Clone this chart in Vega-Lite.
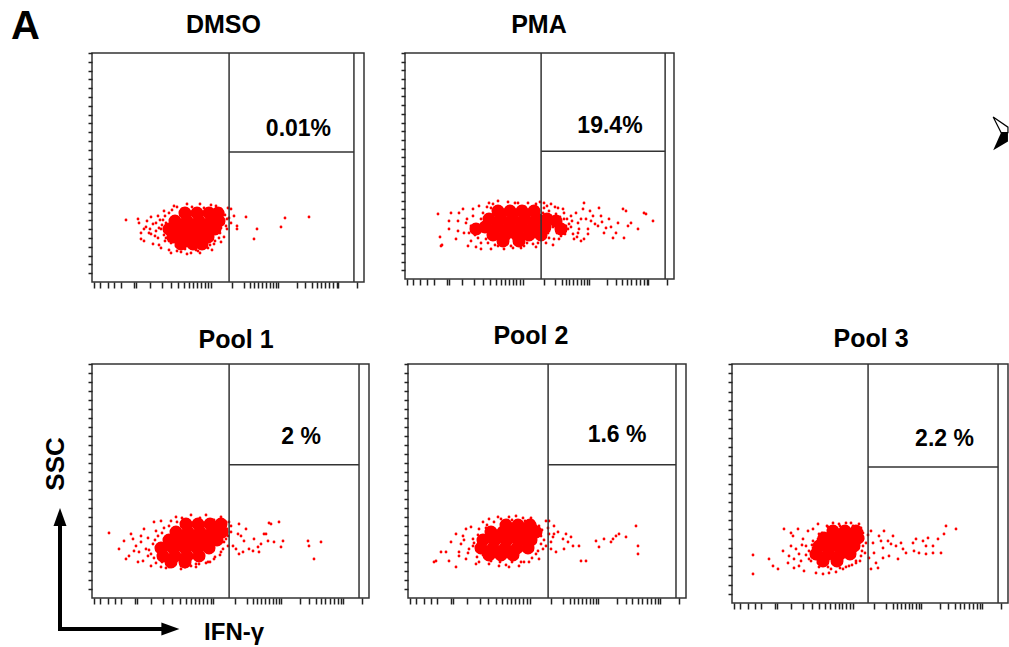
{
"$schema": "https://vega.github.io/schema/vega-lite/v6.json",
"padding": {"left": 10, "top": 6, "right": 0, "bottom": 0},
"background": "white",
"config": {"view": {"stroke": "#333333", "strokeWidth": 1.5}, "font": "Liberation Sans"},
"datasets": {
"gates": [
{"panel":"DMSO","x":50.4,"x2":50.4,"y":0,"y2":26},{"panel":"DMSO","x":96.3,"x2":96.3,"y":0,"y2":26},{"panel":"DMSO","x":50.4,"x2":96.3,"y":14.76,"y2":14.76},
{"panel":"PMA","x":50.6,"x2":50.6,"y":0,"y2":26},{"panel":"PMA","x":96.7,"x2":96.7,"y":0,"y2":26},{"panel":"PMA","x":50.6,"x2":96.7,"y":14.7,"y2":14.7},
{"panel":"Pool 1","x":49.5,"x2":49.5,"y":0,"y2":26},{"panel":"Pool 1","x":96.4,"x2":96.4,"y":0,"y2":26},{"panel":"Pool 1","x":49.5,"x2":96.4,"y":14.8,"y2":14.8},
{"panel":"Pool 2","x":50.4,"x2":50.4,"y":0,"y2":26},{"panel":"Pool 2","x":96.4,"x2":96.4,"y":0,"y2":26},{"panel":"Pool 2","x":50.4,"x2":96.4,"y":14.8,"y2":14.8},
{"panel":"Pool 3","x":49.3,"x2":49.3,"y":0,"y2":26},{"panel":"Pool 3","x":96.4,"x2":96.4,"y":0,"y2":26},{"panel":"Pool 3","x":49.3,"x2":96.4,"y":14.8,"y2":14.8}
],
"titles": [
{"panel":"DMSO","label":"DMSO","x":48.3,"y":28.3},
{"panel":"PMA","label":"PMA","x":49.8,"y":28.3},
{"panel":"Pool 1","label":"Pool 1","x":52.0,"y":27.8},
{"panel":"Pool 2","label":"Pool 2","x":44.2,"y":28.2},
{"panel":"Pool 3","label":"Pool 3","x":50.4,"y":27.9}
],
"percents": [
{"panel":"DMSO","label":"0.01%","x":75.9,"y":16.6},
{"panel":"PMA","label":"19.4%","x":76.2,"y":16.8},
{"panel":"Pool 1","label":"2 %","x":75.5,"y":17.1},
{"panel":"Pool 2","label":"1.6 %","x":75.2,"y":17.3},
{"panel":"Pool 3","label":"2.2 %","x":77.0,"y":17.1}
],
"core": [
{"panel":"DMSO","x":93,"y":69},{"panel":"DMSO","x":105,"y":69},{"panel":"DMSO","x":117,"y":69},{"panel":"DMSO","x":126,"y":69},
{"panel":"DMSO","x":83,"y":61},{"panel":"DMSO","x":95,"y":61},{"panel":"DMSO","x":107,"y":61},{"panel":"DMSO","x":119,"y":61},{"panel":"DMSO","x":127,"y":61},
{"panel":"DMSO","x":77,"y":53},{"panel":"DMSO","x":89,"y":53},{"panel":"DMSO","x":101,"y":53},{"panel":"DMSO","x":113,"y":53},{"panel":"DMSO","x":123,"y":53},
{"panel":"DMSO","x":81,"y":45},{"panel":"DMSO","x":93,"y":45},{"panel":"DMSO","x":105,"y":45},{"panel":"DMSO","x":116,"y":45},
{"panel":"DMSO","x":89,"y":38},{"panel":"DMSO","x":101,"y":38},{"panel":"DMSO","x":110,"y":38},
{"panel":"PMA","x":93,"y":68},{"panel":"PMA","x":105,"y":68},{"panel":"PMA","x":117,"y":68},{"panel":"PMA","x":129,"y":68},
{"panel":"PMA","x":84,"y":60},{"panel":"PMA","x":96,"y":60},{"panel":"PMA","x":108,"y":60},{"panel":"PMA","x":120,"y":60},{"panel":"PMA","x":132,"y":60},{"panel":"PMA","x":142,"y":60},
{"panel":"PMA","x":80,"y":52},{"panel":"PMA","x":92,"y":52},{"panel":"PMA","x":104,"y":52},{"panel":"PMA","x":116,"y":52},{"panel":"PMA","x":128,"y":52},{"panel":"PMA","x":140,"y":52},
{"panel":"PMA","x":88,"y":44},{"panel":"PMA","x":100,"y":44},{"panel":"PMA","x":112,"y":44},{"panel":"PMA","x":124,"y":44},
{"panel":"PMA","x":98,"y":38},{"panel":"PMA","x":114,"y":38},
{"panel":"PMA","x":151,"y":58},{"panel":"PMA","x":156,"y":50},{"panel":"PMA","x":71,"y":50},{"panel":"PMA","x":136,"y":44},
{"panel":"Pool 1","x":94,"y":74},{"panel":"Pool 1","x":106,"y":74},{"panel":"Pool 1","x":118,"y":74},{"panel":"Pool 1","x":129,"y":74},
{"panel":"Pool 1","x":84,"y":66},{"panel":"Pool 1","x":96,"y":66},{"panel":"Pool 1","x":108,"y":66},{"panel":"Pool 1","x":120,"y":66},{"panel":"Pool 1","x":130,"y":66},
{"panel":"Pool 1","x":77,"y":58},{"panel":"Pool 1","x":89,"y":58},{"panel":"Pool 1","x":101,"y":58},{"panel":"Pool 1","x":113,"y":58},{"panel":"Pool 1","x":125,"y":58},
{"panel":"Pool 1","x":69,"y":50},{"panel":"Pool 1","x":81,"y":50},{"panel":"Pool 1","x":93,"y":50},{"panel":"Pool 1","x":105,"y":50},{"panel":"Pool 1","x":117,"y":50},
{"panel":"Pool 1","x":71,"y":42},{"panel":"Pool 1","x":83,"y":42},{"panel":"Pool 1","x":95,"y":42},{"panel":"Pool 1","x":107,"y":42},
{"panel":"Pool 1","x":79,"y":36},{"panel":"Pool 1","x":93,"y":36},
{"panel":"Pool 2","x":98,"y":73},{"panel":"Pool 2","x":110,"y":73},{"panel":"Pool 2","x":122,"y":73},
{"panel":"Pool 2","x":83,"y":66},{"panel":"Pool 2","x":95,"y":66},{"panel":"Pool 2","x":107,"y":66},{"panel":"Pool 2","x":119,"y":66},{"panel":"Pool 2","x":128,"y":66},
{"panel":"Pool 2","x":75,"y":58},{"panel":"Pool 2","x":87,"y":58},{"panel":"Pool 2","x":99,"y":58},{"panel":"Pool 2","x":111,"y":58},{"panel":"Pool 2","x":123,"y":58},
{"panel":"Pool 2","x":73,"y":50},{"panel":"Pool 2","x":85,"y":50},{"panel":"Pool 2","x":97,"y":50},{"panel":"Pool 2","x":109,"y":50},{"panel":"Pool 2","x":120,"y":50},
{"panel":"Pool 2","x":81,"y":43},{"panel":"Pool 2","x":93,"y":43},{"panel":"Pool 2","x":105,"y":43},
{"panel":"Pool 3","x":101,"y":72},{"panel":"Pool 3","x":113,"y":72},{"panel":"Pool 3","x":124,"y":72},
{"panel":"Pool 3","x":92,"y":65},{"panel":"Pool 3","x":104,"y":65},{"panel":"Pool 3","x":116,"y":65},{"panel":"Pool 3","x":126,"y":65},
{"panel":"Pool 3","x":87,"y":57},{"panel":"Pool 3","x":99,"y":57},{"panel":"Pool 3","x":111,"y":57},{"panel":"Pool 3","x":122,"y":57},
{"panel":"Pool 3","x":84,"y":49},{"panel":"Pool 3","x":96,"y":49},{"panel":"Pool 3","x":108,"y":49},{"panel":"Pool 3","x":118,"y":49},
{"panel":"Pool 3","x":91,"y":42},{"panel":"Pool 3","x":105,"y":42}
],
"events": [
{"panel":"DMSO","x":34,"y":62},{"panel":"DMSO","x":46,"y":63},{"panel":"DMSO","x":47,"y":59},{"panel":"DMSO","x":59,"y":65},{"panel":"DMSO","x":61,"y":58},{"panel":"DMSO","x":49,"y":49},{"panel":"DMSO","x":57,"y":49},{"panel":"DMSO","x":52,"y":41},{"panel":"DMSO","x":61,"y":38},{"panel":"DMSO","x":66,"y":44},{"panel":"DMSO","x":69,"y":34},{"panel":"DMSO","x":77,"y":32},{"panel":"DMSO","x":89,"y":30},{"panel":"DMSO","x":99,"y":29},{"panel":"DMSO","x":106,"y":31},{"panel":"DMSO","x":116,"y":34},{"panel":"DMSO","x":122,"y":38},{"panel":"DMSO","x":127,"y":44},{"panel":"DMSO","x":129,"y":54},{"panel":"DMSO","x":136,"y":74},{"panel":"DMSO","x":137,"y":64},{"panel":"DMSO","x":142,"y":66},{"panel":"DMSO","x":145,"y":56},{"panel":"DMSO","x":72,"y":71},{"panel":"DMSO","x":66,"y":66},{"panel":"DMSO","x":82,"y":76},{"panel":"DMSO","x":74,"y":59},{"panel":"DMSO","x":67,"y":54},{"panel":"DMSO","x":54,"y":55},{"panel":"DMSO","x":76,"y":48},{"panel":"DMSO","x":52,"y":53},{"panel":"DMSO","x":49,"y":43},{"panel":"DMSO","x":59,"y":48},{"panel":"DMSO","x":154,"y":65},{"panel":"DMSO","x":145,"y":53},{"panel":"DMSO","x":165,"y":53},{"panel":"DMSO","x":162,"y":43},{"panel":"DMSO","x":193,"y":64},{"panel":"DMSO","x":189,"y":55},{"panel":"DMSO","x":217,"y":65},{"panel":"DMSO","x":139,"y":73},{"panel":"DMSO","x":85,"y":75},{"panel":"DMSO","x":95,"y":78},{"panel":"DMSO","x":108,"y":78},{"panel":"DMSO","x":119,"y":77},{"panel":"DMSO","x":129,"y":73},{"panel":"DMSO","x":133,"y":67},{"panel":"DMSO","x":131,"y":59},{"panel":"DMSO","x":128,"y":49},{"panel":"DMSO","x":123,"y":41},{"panel":"DMSO","x":114,"y":35},{"panel":"DMSO","x":104,"y":32},{"panel":"DMSO","x":93,"y":33},{"panel":"DMSO","x":84,"y":36},{"panel":"DMSO","x":77,"y":41},{"panel":"DMSO","x":72,"y":47},{"panel":"DMSO","x":69,"y":53},{"panel":"DMSO","x":71,"y":62},{"panel":"DMSO","x":77,"y":69},{"panel":"DMSO","x":64,"y":51},{"panel":"DMSO","x":55,"y":61},{"panel":"DMSO","x":67,"y":37},{"panel":"DMSO","x":79,"y":29},{"panel":"DMSO","x":95,"y":28},{"panel":"DMSO","x":108,"y":29},{"panel":"DMSO","x":135,"y":53},{"panel":"DMSO","x":132,"y":45},{"panel":"DMSO","x":139,"y":59},{"panel":"DMSO","x":124,"y":76},{"panel":"DMSO","x":90,"y":73},{"panel":"DMSO","x":64,"y":59},{"panel":"DMSO","x":73,"y":41},{"panel":"DMSO","x":85,"y":31},{"panel":"DMSO","x":120,"y":32},{"panel":"DMSO","x":125,"y":51},{"panel":"DMSO","x":135,"y":63},
{"panel":"DMSO","x":80,"y":72},{"panel":"DMSO","x":100,"y":75},{"panel":"DMSO","x":112,"y":74},{"panel":"DMSO","x":131,"y":69},{"panel":"DMSO","x":134,"y":56},{"panel":"DMSO","x":129,"y":40},{"panel":"DMSO","x":118,"y":37},{"panel":"DMSO","x":100,"y":34},{"panel":"DMSO","x":88,"y":35},{"panel":"DMSO","x":79,"y":39},{"panel":"DMSO","x":74,"y":44},{"panel":"DMSO","x":70,"y":57},{"panel":"DMSO","x":73,"y":66},{"panel":"DMSO","x":63,"y":46},{"panel":"DMSO","x":58,"y":53},{"panel":"DMSO","x":68,"y":62},
{"panel":"PMA","x":33,"y":65},{"panel":"PMA","x":36,"y":33},{"panel":"PMA","x":46,"y":66},{"panel":"PMA","x":44,"y":50},{"panel":"PMA","x":51,"y":40},{"panel":"PMA","x":53,"y":58},{"panel":"PMA","x":58,"y":70},{"panel":"PMA","x":59,"y":46},{"panel":"PMA","x":63,"y":33},{"panel":"PMA","x":66,"y":53},{"panel":"PMA","x":68,"y":63},{"panel":"PMA","x":73,"y":41},{"panel":"PMA","x":74,"y":73},{"panel":"PMA","x":76,"y":30},{"panel":"PMA","x":79,"y":50},{"panel":"PMA","x":83,"y":36},{"panel":"PMA","x":86,"y":30},{"panel":"PMA","x":93,"y":33},{"panel":"PMA","x":99,"y":30},{"panel":"PMA","x":106,"y":33},{"panel":"PMA","x":113,"y":36},{"panel":"PMA","x":119,"y":33},{"panel":"PMA","x":126,"y":40},{"panel":"PMA","x":133,"y":36},{"panel":"PMA","x":84,"y":76},{"panel":"PMA","x":93,"y":78},{"panel":"PMA","x":103,"y":77},{"panel":"PMA","x":113,"y":76},{"panel":"PMA","x":123,"y":76},{"panel":"PMA","x":131,"y":75},{"panel":"PMA","x":139,"y":76},{"panel":"PMA","x":146,"y":75},{"panel":"PMA","x":153,"y":71},{"panel":"PMA","x":159,"y":66},{"panel":"PMA","x":166,"y":63},{"panel":"PMA","x":173,"y":56},{"panel":"PMA","x":178,"y":70},{"panel":"PMA","x":179,"y":76},{"panel":"PMA","x":183,"y":50},{"panel":"PMA","x":188,"y":63},{"panel":"PMA","x":193,"y":53},{"panel":"PMA","x":194,"y":71},{"panel":"PMA","x":199,"y":46},{"panel":"PMA","x":204,"y":60},{"panel":"PMA","x":208,"y":41},{"panel":"PMA","x":213,"y":56},{"panel":"PMA","x":218,"y":70},{"panel":"PMA","x":219,"y":41},{"panel":"PMA","x":223,"y":53},{"panel":"PMA","x":226,"y":56},{"panel":"PMA","x":233,"y":50},{"panel":"PMA","x":239,"y":66},{"panel":"PMA","x":248,"y":58},{"panel":"PMA","x":143,"y":46},{"panel":"PMA","x":149,"y":40},{"panel":"PMA","x":156,"y":43},{"panel":"PMA","x":163,"y":50},{"panel":"PMA","x":169,"y":40},{"panel":"PMA","x":173,"y":46},{"panel":"PMA","x":141,"y":63},{"panel":"PMA","x":148,"y":58},{"panel":"PMA","x":154,"y":53},{"panel":"PMA","x":159,"y":60},{"panel":"PMA","x":144,"y":68},{"panel":"PMA","x":151,"y":65},{"panel":"PMA","x":158,"y":70},{"panel":"PMA","x":164,"y":55},{"panel":"PMA","x":168,"y":45},{"panel":"PMA","x":179,"y":40},{"panel":"PMA","x":186,"y":58},{"panel":"PMA","x":196,"y":63},{"panel":"PMA","x":201,"y":51},{"panel":"PMA","x":211,"y":46},{"panel":"PMA","x":35,"y":42},{"panel":"PMA","x":37,"y":34},{"panel":"PMA","x":44,"y":58},{"panel":"PMA","x":53,"y":48},{"panel":"PMA","x":221,"y":68},{"panel":"PMA","x":241,"y":65},{"panel":"PMA","x":71,"y":53},{"panel":"PMA","x":74,"y":46},{"panel":"PMA","x":81,"y":40},{"panel":"PMA","x":78,"y":66},{"panel":"PMA","x":86,"y":71},{"panel":"PMA","x":141,"y":53},{"panel":"PMA","x":144,"y":48},{"panel":"PMA","x":136,"y":42},{"panel":"PMA","x":139,"y":71},{"panel":"PMA","x":148,"y":52},{"panel":"PMA","x":152,"y":46},{"panel":"PMA","x":156,"y":56},{"panel":"PMA","x":161,"y":53},{"panel":"PMA","x":141,"y":36},{"panel":"PMA","x":131,"y":32},{"panel":"PMA","x":137,"y":58},{"panel":"PMA","x":140,"y":48},{"panel":"PMA","x":146,"y":63},{"panel":"PMA","x":150,"y":56},{"panel":"PMA","x":154,"y":40},{"panel":"PMA","x":158,"y":48},{"panel":"PMA","x":162,"y":60},{"panel":"PMA","x":166,"y":52},{"panel":"PMA","x":171,"y":66},{"panel":"PMA","x":174,"y":50},{"panel":"PMA","x":142,"y":73},{"panel":"PMA","x":148,"y":34},{"panel":"PMA","x":176,"y":38},{"panel":"PMA","x":181,"y":60},{"panel":"PMA","x":144,"y":41},{"panel":"PMA","x":66,"y":38},{"panel":"PMA","x":61,"y":56},{"panel":"PMA","x":71,"y":32},{"panel":"PMA","x":64,"y":46},{"panel":"PMA","x":54,"y":66},{"panel":"PMA","x":76,"y":60},
{"panel":"PMA","x":62,"y":60},{"panel":"PMA","x":68,"y":70},{"panel":"PMA","x":70,"y":44},{"panel":"PMA","x":76,"y":36},{"panel":"PMA","x":82,"y":72},{"panel":"PMA","x":88,"y":75},{"panel":"PMA","x":90,"y":34},{"panel":"PMA","x":96,"y":36},{"panel":"PMA","x":102,"y":35},{"panel":"PMA","x":108,"y":31},{"panel":"PMA","x":116,"y":31},{"panel":"PMA","x":122,"y":36},{"panel":"PMA","x":128,"y":35},{"panel":"PMA","x":134,"y":44},{"panel":"PMA","x":138,"y":66},{"panel":"PMA","x":150,"y":72},{"panel":"PMA","x":155,"y":62},{"panel":"PMA","x":160,"y":45},{"panel":"PMA","x":167,"y":58},{"panel":"PMA","x":172,"y":42},{"panel":"PMA","x":176,"y":60},{"panel":"PMA","x":183,"y":45},{"panel":"PMA","x":190,"y":55},{"panel":"PMA","x":185,"y":68},{"panel":"PMA","x":197,"y":57},{"panel":"PMA","x":206,"y":52},{"panel":"PMA","x":89,"y":64},{"panel":"PMA","x":110,"y":76},{"panel":"PMA","x":120,"y":72},{"panel":"PMA","x":135,"y":77},
{"panel":"Pool 1","x":17,"y":65},{"panel":"Pool 1","x":32,"y":57},{"panel":"Pool 1","x":39,"y":64},{"panel":"Pool 1","x":42,"y":47},{"panel":"Pool 1","x":34,"y":39},{"panel":"Pool 1","x":49,"y":56},{"panel":"Pool 1","x":52,"y":69},{"panel":"Pool 1","x":56,"y":42},{"panel":"Pool 1","x":46,"y":36},{"panel":"Pool 1","x":59,"y":32},{"panel":"Pool 1","x":62,"y":76},{"panel":"Pool 1","x":69,"y":31},{"panel":"Pool 1","x":79,"y":77},{"panel":"Pool 1","x":77,"y":31},{"panel":"Pool 1","x":89,"y":32},{"panel":"Pool 1","x":99,"y":32},{"panel":"Pool 1","x":107,"y":34},{"panel":"Pool 1","x":116,"y":36},{"panel":"Pool 1","x":122,"y":39},{"panel":"Pool 1","x":129,"y":46},{"panel":"Pool 1","x":132,"y":56},{"panel":"Pool 1","x":137,"y":76},{"panel":"Pool 1","x":139,"y":66},{"panel":"Pool 1","x":141,"y":52},{"panel":"Pool 1","x":144,"y":49},{"panel":"Pool 1","x":147,"y":74},{"panel":"Pool 1","x":149,"y":62},{"panel":"Pool 1","x":154,"y":69},{"panel":"Pool 1","x":151,"y":46},{"panel":"Pool 1","x":162,"y":59},{"panel":"Pool 1","x":166,"y":51},{"panel":"Pool 1","x":172,"y":64},{"panel":"Pool 1","x":176,"y":57},{"panel":"Pool 1","x":179,"y":74},{"panel":"Pool 1","x":182,"y":56},{"panel":"Pool 1","x":187,"y":76},{"panel":"Pool 1","x":189,"y":51},{"panel":"Pool 1","x":216,"y":57},{"panel":"Pool 1","x":217,"y":52},{"panel":"Pool 1","x":222,"y":39},{"panel":"Pool 1","x":229,"y":56},{"panel":"Pool 1","x":157,"y":49},{"panel":"Pool 1","x":161,"y":47},{"panel":"Pool 1","x":167,"y":46},{"panel":"Pool 1","x":177,"y":75},{"panel":"Pool 1","x":174,"y":64},{"panel":"Pool 1","x":191,"y":57},{"panel":"Pool 1","x":146,"y":64},{"panel":"Pool 1","x":152,"y":57},{"panel":"Pool 1","x":139,"y":72},{"panel":"Pool 1","x":147,"y":44},{"panel":"Pool 1","x":169,"y":54},{"panel":"Pool 1","x":84,"y":81},{"panel":"Pool 1","x":99,"y":83},{"panel":"Pool 1","x":114,"y":83},{"panel":"Pool 1","x":129,"y":81},{"panel":"Pool 1","x":135,"y":69},{"panel":"Pool 1","x":134,"y":59},{"panel":"Pool 1","x":131,"y":49},{"panel":"Pool 1","x":123,"y":41},{"panel":"Pool 1","x":114,"y":35},{"panel":"Pool 1","x":104,"y":31},{"panel":"Pool 1","x":89,"y":29},{"panel":"Pool 1","x":74,"y":30},{"panel":"Pool 1","x":64,"y":35},{"panel":"Pool 1","x":59,"y":44},{"panel":"Pool 1","x":61,"y":54},{"panel":"Pool 1","x":66,"y":62},{"panel":"Pool 1","x":72,"y":70},{"panel":"Pool 1","x":54,"y":49},{"panel":"Pool 1","x":49,"y":62},{"panel":"Pool 1","x":44,"y":52},{"panel":"Pool 1","x":37,"y":42},{"panel":"Pool 1","x":51,"y":37},{"panel":"Pool 1","x":64,"y":67},{"panel":"Pool 1","x":69,"y":77},{"panel":"Pool 1","x":27,"y":49},{"panel":"Pool 1","x":41,"y":59},
{"panel":"Pool 1","x":90,"y":80},{"panel":"Pool 1","x":108,"y":80},{"panel":"Pool 1","x":122,"y":78},{"panel":"Pool 1","x":134,"y":76},{"panel":"Pool 1","x":136,"y":62},{"panel":"Pool 1","x":136,"y":52},{"panel":"Pool 1","x":128,"y":43},{"panel":"Pool 1","x":118,"y":36},{"panel":"Pool 1","x":104,"y":34},{"panel":"Pool 1","x":93,"y":31},{"panel":"Pool 1","x":80,"y":33},{"panel":"Pool 1","x":70,"y":36},{"panel":"Pool 1","x":62,"y":40},{"panel":"Pool 1","x":57,"y":48},{"panel":"Pool 1","x":63,"y":58},{"panel":"Pool 1","x":70,"y":65},{"panel":"Pool 1","x":77,"y":72},{"panel":"Pool 1","x":85,"y":76},{"panel":"Pool 1","x":56,"y":60},{"panel":"Pool 1","x":47,"y":46},
{"panel":"Pool 2","x":28,"y":37},{"panel":"Pool 2","x":33,"y":46},{"panel":"Pool 2","x":38,"y":46},{"panel":"Pool 2","x":43,"y":56},{"panel":"Pool 2","x":41,"y":37},{"panel":"Pool 2","x":51,"y":46},{"panel":"Pool 2","x":55,"y":62},{"panel":"Pool 2","x":58,"y":39},{"panel":"Pool 2","x":63,"y":71},{"panel":"Pool 2","x":65,"y":52},{"panel":"Pool 2","x":68,"y":34},{"panel":"Pool 2","x":75,"y":76},{"panel":"Pool 2","x":81,"y":79},{"panel":"Pool 2","x":90,"y":81},{"panel":"Pool 2","x":101,"y":81},{"panel":"Pool 2","x":115,"y":80},{"panel":"Pool 2","x":125,"y":77},{"panel":"Pool 2","x":131,"y":72},{"panel":"Pool 2","x":133,"y":62},{"panel":"Pool 2","x":135,"y":49},{"panel":"Pool 2","x":131,"y":39},{"panel":"Pool 2","x":121,"y":36},{"panel":"Pool 2","x":111,"y":32},{"panel":"Pool 2","x":101,"y":31},{"panel":"Pool 2","x":91,"y":32},{"panel":"Pool 2","x":81,"y":34},{"panel":"Pool 2","x":71,"y":36},{"panel":"Pool 2","x":138,"y":77},{"panel":"Pool 2","x":141,"y":64},{"panel":"Pool 2","x":143,"y":56},{"panel":"Pool 2","x":145,"y":61},{"panel":"Pool 2","x":148,"y":46},{"panel":"Pool 2","x":150,"y":66},{"panel":"Pool 2","x":155,"y":59},{"panel":"Pool 2","x":158,"y":64},{"panel":"Pool 2","x":160,"y":56},{"panel":"Pool 2","x":163,"y":61},{"panel":"Pool 2","x":165,"y":52},{"panel":"Pool 2","x":156,"y":49},{"panel":"Pool 2","x":171,"y":52},{"panel":"Pool 2","x":173,"y":37},{"panel":"Pool 2","x":178,"y":37},{"panel":"Pool 2","x":188,"y":57},{"panel":"Pool 2","x":191,"y":51},{"panel":"Pool 2","x":196,"y":59},{"panel":"Pool 2","x":203,"y":56},{"panel":"Pool 2","x":208,"y":62},{"panel":"Pool 2","x":211,"y":64},{"panel":"Pool 2","x":218,"y":61},{"panel":"Pool 2","x":228,"y":72},{"panel":"Pool 2","x":230,"y":52},{"panel":"Pool 2","x":230,"y":44},{"panel":"Pool 2","x":146,"y":72},{"panel":"Pool 2","x":26,"y":36},{"panel":"Pool 2","x":48,"y":31},{"panel":"Pool 2","x":51,"y":42},{"panel":"Pool 2","x":205,"y":59},{"panel":"Pool 2","x":146,"y":64},{"panel":"Pool 2","x":143,"y":49},{"panel":"Pool 2","x":141,"y":77},{"panel":"Pool 2","x":71,"y":69},{"panel":"Pool 2","x":65,"y":59},{"panel":"Pool 2","x":61,"y":49},{"panel":"Pool 2","x":69,"y":41},{"panel":"Pool 2","x":93,"y":79},{"panel":"Pool 2","x":108,"y":82},{"panel":"Pool 2","x":123,"y":80},{"panel":"Pool 2","x":131,"y":69},{"panel":"Pool 2","x":133,"y":54},{"panel":"Pool 2","x":128,"y":44},{"panel":"Pool 2","x":113,"y":36},{"panel":"Pool 2","x":98,"y":33},{"panel":"Pool 2","x":83,"y":37},{"panel":"Pool 2","x":75,"y":43},{"panel":"Pool 2","x":79,"y":73},{"panel":"Pool 2","x":53,"y":54},{"panel":"Pool 2","x":48,"y":64},{"panel":"Pool 2","x":58,"y":69},
{"panel":"Pool 2","x":86,"y":76},{"panel":"Pool 2","x":104,"y":78},{"panel":"Pool 2","x":117,"y":77},{"panel":"Pool 2","x":128,"y":72},{"panel":"Pool 2","x":134,"y":68},{"panel":"Pool 2","x":136,"y":58},{"panel":"Pool 2","x":130,"y":47},{"panel":"Pool 2","x":124,"y":40},{"panel":"Pool 2","x":116,"y":36},{"panel":"Pool 2","x":104,"y":36},{"panel":"Pool 2","x":92,"y":36},{"panel":"Pool 2","x":80,"y":40},{"panel":"Pool 2","x":72,"y":46},{"panel":"Pool 2","x":66,"y":55},{"panel":"Pool 2","x":70,"y":63},{"panel":"Pool 2","x":78,"y":70},{"panel":"Pool 2","x":138,"y":52},{"panel":"Pool 2","x":140,"y":70},{"panel":"Pool 2","x":60,"y":45},{"panel":"Pool 2","x":56,"y":58},
{"panel":"Pool 3","x":21,"y":48},{"panel":"Pool 3","x":21,"y":29},{"panel":"Pool 3","x":37,"y":44},{"panel":"Pool 3","x":41,"y":37},{"panel":"Pool 3","x":46,"y":34},{"panel":"Pool 3","x":51,"y":52},{"panel":"Pool 3","x":52,"y":74},{"panel":"Pool 3","x":56,"y":40},{"panel":"Pool 3","x":59,"y":57},{"panel":"Pool 3","x":61,"y":67},{"panel":"Pool 3","x":62,"y":35},{"panel":"Pool 3","x":66,"y":74},{"panel":"Pool 3","x":67,"y":49},{"panel":"Pool 3","x":71,"y":64},{"panel":"Pool 3","x":72,"y":32},{"panel":"Pool 3","x":76,"y":72},{"panel":"Pool 3","x":77,"y":44},{"panel":"Pool 3","x":81,"y":55},{"panel":"Pool 3","x":84,"y":30},{"panel":"Pool 3","x":86,"y":79},{"panel":"Pool 3","x":91,"y":29},{"panel":"Pool 3","x":97,"y":30},{"panel":"Pool 3","x":104,"y":31},{"panel":"Pool 3","x":111,"y":34},{"panel":"Pool 3","x":117,"y":37},{"panel":"Pool 3","x":124,"y":40},{"panel":"Pool 3","x":129,"y":47},{"panel":"Pool 3","x":131,"y":57},{"panel":"Pool 3","x":131,"y":70},{"panel":"Pool 3","x":127,"y":79},{"panel":"Pool 3","x":114,"y":80},{"panel":"Pool 3","x":101,"y":80},{"panel":"Pool 3","x":139,"y":72},{"panel":"Pool 3","x":141,"y":60},{"panel":"Pool 3","x":142,"y":50},{"panel":"Pool 3","x":144,"y":40},{"panel":"Pool 3","x":139,"y":34},{"panel":"Pool 3","x":147,"y":67},{"panel":"Pool 3","x":151,"y":55},{"panel":"Pool 3","x":152,"y":72},{"panel":"Pool 3","x":156,"y":62},{"panel":"Pool 3","x":157,"y":47},{"panel":"Pool 3","x":161,"y":67},{"panel":"Pool 3","x":164,"y":57},{"panel":"Pool 3","x":166,"y":44},{"panel":"Pool 3","x":169,"y":60},{"panel":"Pool 3","x":171,"y":54},{"panel":"Pool 3","x":174,"y":50},{"panel":"Pool 3","x":181,"y":60},{"panel":"Pool 3","x":184,"y":64},{"panel":"Pool 3","x":191,"y":62},{"panel":"Pool 3","x":196,"y":65},{"panel":"Pool 3","x":194,"y":57},{"panel":"Pool 3","x":201,"y":57},{"panel":"Pool 3","x":206,"y":64},{"panel":"Pool 3","x":209,"y":50},{"panel":"Pool 3","x":214,"y":77},{"panel":"Pool 3","x":212,"y":69},{"panel":"Pool 3","x":224,"y":74},{"panel":"Pool 3","x":201,"y":50},{"panel":"Pool 3","x":187,"y":50},{"panel":"Pool 3","x":146,"y":35},{"panel":"Pool 3","x":151,"y":45},{"panel":"Pool 3","x":59,"y":70},{"panel":"Pool 3","x":194,"y":49},{"panel":"Pool 3","x":182,"y":52},{"panel":"Pool 3","x":159,"y":59},{"panel":"Pool 3","x":149,"y":62},{"panel":"Pool 3","x":81,"y":74},{"panel":"Pool 3","x":87,"y":69},{"panel":"Pool 3","x":81,"y":62},{"panel":"Pool 3","x":77,"y":52},{"panel":"Pool 3","x":79,"y":42},{"panel":"Pool 3","x":87,"y":36},{"panel":"Pool 3","x":99,"y":34},{"panel":"Pool 3","x":114,"y":36},{"panel":"Pool 3","x":124,"y":42},{"panel":"Pool 3","x":130,"y":52},{"panel":"Pool 3","x":131,"y":64},{"panel":"Pool 3","x":129,"y":75},{"panel":"Pool 3","x":119,"y":80},{"panel":"Pool 3","x":107,"y":79},{"panel":"Pool 3","x":95,"y":77},{"panel":"Pool 3","x":69,"y":42},{"panel":"Pool 3","x":64,"y":54},{"panel":"Pool 3","x":74,"y":57},{"panel":"Pool 3","x":57,"y":47},{"panel":"Pool 3","x":67,"y":37},
{"panel":"Pool 3","x":96,"y":76},{"panel":"Pool 3","x":108,"y":77},{"panel":"Pool 3","x":121,"y":77},{"panel":"Pool 3","x":130,"y":72},{"panel":"Pool 3","x":134,"y":60},{"panel":"Pool 3","x":133,"y":50},{"panel":"Pool 3","x":128,"y":42},{"panel":"Pool 3","x":120,"y":38},{"panel":"Pool 3","x":108,"y":35},{"panel":"Pool 3","x":96,"y":36},{"panel":"Pool 3","x":86,"y":40},{"panel":"Pool 3","x":80,"y":46},{"panel":"Pool 3","x":80,"y":58},{"panel":"Pool 3","x":86,"y":64},{"panel":"Pool 3","x":90,"y":70},{"panel":"Pool 3","x":74,"y":48},{"panel":"Pool 3","x":70,"y":58},{"panel":"Pool 3","x":136,"y":68},{"panel":"Pool 3","x":137,"y":45},{"panel":"Pool 3","x":62,"y":44}
]
},
"vconcat": [
{
"hconcat": [
{
"width": 272, "height": 229,
"resolve": {"scale": {"x": "independent", "y": "independent"}},
"layer": [
{"data": {"name": "core"}, "transform": [{"filter": "datum.panel === 'DMSO'"}], "mark": {"type": "circle", "size": 170, "color": "#ff0000", "opacity": 1},
 "encoding": {"x": {"field": "x", "type": "quantitative", "scale": {"domain": [0, 272]}, "axis": null}, "y": {"field": "y", "type": "quantitative", "scale": {"domain": [0, 229]}, "axis": null}}},
{"data": {"name": "events"}, "transform": [{"filter": "datum.panel === 'DMSO'"}], "mark": {"type": "circle", "size": 8, "color": "#ff0000", "opacity": 1},
 "encoding": {"x": {"field": "x", "type": "quantitative", "scale": {"domain": [0, 272]}, "axis": null}, "y": {"field": "y", "type": "quantitative", "scale": {"domain": [0, 229]}, "axis": null}}},
{"data": {"name": "gates"}, "transform": [{"filter": "datum.panel === 'DMSO'"}], "mark": {"type": "rule", "color": "#333333", "strokeWidth": 1.5},
 "encoding": {
  "x": {"field": "x", "type": "quantitative", "scale": {"domain": [0, 100]}, "axis": {"orient": "bottom", "values": [0.7,3.0,5.7,8.2,10.6,15.6,16.3,21.3,25.8,28.9,31.6,33.8,35.6,37.2,38.6,40.0,41.4,42.8,43.8,51.5,55.8,58.2,59.7,61.1,62.6,64.0,65.3,66.5,67.6,68.3,75.2,78.3,80.7,82.6,84.2,85.8,87.3,88.7,89.9,90.5,97.4], "labels": false, "domain": false, "grid": false, "tickSize": 6, "tickColor": "#222222", "tickWidth": 1.5, "title": null}},
  "x2": {"field": "x2"},
  "y": {"field": "y", "type": "quantitative", "scale": {"domain": [0, 26]}, "axis": {"orient": "left", "values": [1,2,3,4,5,6,7,8,9,10,11,12,13,14,15,16,17,18,19,20,21,22,23,24,25,26], "labels": false, "domain": false, "grid": false, "tickSize": 4, "tickColor": "#222222", "tickWidth": 1.5, "title": null}},
  "y2": {"field": "y2"}}},
{"data": {"name": "titles"}, "transform": [{"filter": "datum.panel === 'DMSO'"}], "mark": {"type": "text", "font": "Liberation Sans", "fontSize": 25, "fontWeight": "bold", "align": "center", "baseline": "alphabetic", "color": "#000000"},
 "encoding": {"x": {"field": "x", "type": "quantitative", "scale": {"domain": [0, 100]}, "axis": null}, "y": {"field": "y", "type": "quantitative", "scale": {"domain": [0, 26]}, "axis": null}, "text": {"field": "label"}}},
{"data": {"name": "percents"}, "transform": [{"filter": "datum.panel === 'DMSO'"}], "mark": {"type": "text", "font": "Liberation Sans", "fontSize": 23, "fontWeight": "bold", "align": "center", "baseline": "alphabetic", "color": "#000000"},
 "encoding": {"x": {"field": "x", "type": "quantitative", "scale": {"domain": [0, 100]}, "axis": null}, "y": {"field": "y", "type": "quantitative", "scale": {"domain": [0, 26]}, "axis": null}, "text": {"field": "label"}}},
{"data": {"values": [{"label": "A", "x": -29.8, "y": 27.6}]}, "mark": {"type": "text", "font": "Liberation Sans", "fontSize": 40, "fontWeight": "bold", "align": "left", "baseline": "alphabetic", "color": "#000000"},
 "encoding": {"x": {"field": "x", "type": "quantitative", "scale": {"domain": [0, 100]}, "axis": null}, "y": {"field": "y", "type": "quantitative", "scale": {"domain": [0, 26]}, "axis": null}, "text": {"field": "label"}}}
]
},
{
"width": 269, "height": 226,
"resolve": {"scale": {"x": "independent", "y": "independent"}},
"layer": [
{"data": {"name": "core"}, "transform": [{"filter": "datum.panel === 'PMA'"}], "mark": {"type": "circle", "size": 170, "color": "#ff0000", "opacity": 1},
 "encoding": {"x": {"field": "x", "type": "quantitative", "scale": {"domain": [0, 269]}, "axis": null}, "y": {"field": "y", "type": "quantitative", "scale": {"domain": [0, 226]}, "axis": null}}},
{"data": {"name": "events"}, "transform": [{"filter": "datum.panel === 'PMA'"}], "mark": {"type": "circle", "size": 8, "color": "#ff0000", "opacity": 1},
 "encoding": {"x": {"field": "x", "type": "quantitative", "scale": {"domain": [0, 269]}, "axis": null}, "y": {"field": "y", "type": "quantitative", "scale": {"domain": [0, 226]}, "axis": null}}},
{"data": {"name": "gates"}, "transform": [{"filter": "datum.panel === 'PMA'"}], "mark": {"type": "rule", "color": "#333333", "strokeWidth": 1.5},
 "encoding": {
  "x": {"field": "x", "type": "quantitative", "scale": {"domain": [0, 100]}, "axis": {"orient": "bottom", "values": [0.7,3.0,5.7,8.2,10.6,15.6,16.3,21.3,25.8,28.9,31.6,33.8,35.6,37.2,38.6,40.0,41.4,42.8,43.8,51.5,55.8,58.2,59.7,61.1,62.6,64.0,65.3,66.5,67.6,68.3,75.2,78.3,80.7,82.6,84.2,85.8,87.3,88.7,89.9,90.5,97.4], "labels": false, "domain": false, "grid": false, "tickSize": 6, "tickColor": "#222222", "tickWidth": 1.5, "title": null}},
  "x2": {"field": "x2"},
  "y": {"field": "y", "type": "quantitative", "scale": {"domain": [0, 26]}, "axis": {"orient": "left", "values": [1,2,3,4,5,6,7,8,9,10,11,12,13,14,15,16,17,18,19,20,21,22,23,24,25,26], "labels": false, "domain": false, "grid": false, "tickSize": 4, "tickColor": "#222222", "tickWidth": 1.5, "title": null}},
  "y2": {"field": "y2"}}},
{"data": {"name": "titles"}, "transform": [{"filter": "datum.panel === 'PMA'"}], "mark": {"type": "text", "font": "Liberation Sans", "fontSize": 25, "fontWeight": "bold", "align": "center", "baseline": "alphabetic", "color": "#000000"},
 "encoding": {"x": {"field": "x", "type": "quantitative", "scale": {"domain": [0, 100]}, "axis": null}, "y": {"field": "y", "type": "quantitative", "scale": {"domain": [0, 26]}, "axis": null}, "text": {"field": "label"}}},
{"data": {"name": "percents"}, "transform": [{"filter": "datum.panel === 'PMA'"}], "mark": {"type": "text", "font": "Liberation Sans", "fontSize": 23, "fontWeight": "bold", "align": "center", "baseline": "alphabetic", "color": "#000000"},
 "encoding": {"x": {"field": "x", "type": "quantitative", "scale": {"domain": [0, 100]}, "axis": null}, "y": {"field": "y", "type": "quantitative", "scale": {"domain": [0, 26]}, "axis": null}, "text": {"field": "label"}}},
{"data": {"values": [{"x": 221.6, "y": 16.7}]}, "mark": {"type": "point", "shape": "M-0.44,-0.94L0.38,-0.37L0.38,-0.07L0,-0.07Z", "size": 1296, "filled": true, "fill": "#ffffff", "stroke": "#000000", "strokeWidth": 1.2, "opacity": 1},
 "encoding": {"x": {"field": "x", "type": "quantitative", "scale": {"domain": [0, 100]}, "axis": null}, "y": {"field": "y", "type": "quantitative", "scale": {"domain": [0, 26]}, "axis": null}}},
{"data": {"values": [{"x": 221.6, "y": 16.7}]}, "mark": {"type": "point", "shape": "M0,-0.07L0.38,-0.07L0.38,0.42L-0.44,0.91Z", "size": 1296, "filled": true, "color": "#000000", "opacity": 1},
 "encoding": {"x": {"field": "x", "type": "quantitative", "scale": {"domain": [0, 100]}, "axis": null}, "y": {"field": "y", "type": "quantitative", "scale": {"domain": [0, 26]}, "axis": null}}}
]
}
],
"spacing": 41,
"bounds": "flush"
},
{
"hconcat": [
{
"width": 277, "height": 234,
"resolve": {"scale": {"x": "independent", "y": "independent"}},
"layer": [
{"data": {"name": "core"}, "transform": [{"filter": "datum.panel === 'Pool 1'"}], "mark": {"type": "circle", "size": 170, "color": "#ff0000", "opacity": 1},
 "encoding": {"x": {"field": "x", "type": "quantitative", "scale": {"domain": [0, 277]}, "axis": null}, "y": {"field": "y", "type": "quantitative", "scale": {"domain": [0, 234]}, "axis": null}}},
{"data": {"name": "events"}, "transform": [{"filter": "datum.panel === 'Pool 1'"}], "mark": {"type": "circle", "size": 8, "color": "#ff0000", "opacity": 1},
 "encoding": {"x": {"field": "x", "type": "quantitative", "scale": {"domain": [0, 277]}, "axis": null}, "y": {"field": "y", "type": "quantitative", "scale": {"domain": [0, 234]}, "axis": null}}},
{"data": {"name": "gates"}, "transform": [{"filter": "datum.panel === 'Pool 1'"}], "mark": {"type": "rule", "color": "#333333", "strokeWidth": 1.5},
 "encoding": {
  "x": {"field": "x", "type": "quantitative", "scale": {"domain": [0, 100]}, "axis": {"orient": "bottom", "values": [0.7,3.0,5.7,8.2,10.6,15.6,16.3,21.3,25.8,28.9,31.6,33.8,35.6,37.2,38.6,40.0,41.4,42.8,43.8,51.5,55.8,58.2,59.7,61.1,62.6,64.0,65.3,66.5,67.6,68.3,75.2,78.3,80.7,82.6,84.2,85.8,87.3,88.7,89.9,90.5,97.4], "labels": false, "domain": false, "grid": false, "tickSize": 6, "tickColor": "#222222", "tickWidth": 1.5, "title": null}},
  "x2": {"field": "x2"},
  "y": {"field": "y", "type": "quantitative", "scale": {"domain": [0, 26]}, "axis": {"orient": "left", "values": [1,2,3,4,5,6,7,8,9,10,11,12,13,14,15,16,17,18,19,20,21,22,23,24,25,26], "labels": false, "domain": false, "grid": false, "tickSize": 4, "tickColor": "#222222", "tickWidth": 1.5, "title": null}},
  "y2": {"field": "y2"}}},
{"data": {"name": "titles"}, "transform": [{"filter": "datum.panel === 'Pool 1'"}], "mark": {"type": "text", "font": "Liberation Sans", "fontSize": 25, "fontWeight": "bold", "align": "center", "baseline": "alphabetic", "color": "#000000"},
 "encoding": {"x": {"field": "x", "type": "quantitative", "scale": {"domain": [0, 100]}, "axis": null}, "y": {"field": "y", "type": "quantitative", "scale": {"domain": [0, 26]}, "axis": null}, "text": {"field": "label"}}},
{"data": {"name": "percents"}, "transform": [{"filter": "datum.panel === 'Pool 1'"}], "mark": {"type": "text", "font": "Liberation Sans", "fontSize": 23, "fontWeight": "bold", "align": "center", "baseline": "alphabetic", "color": "#000000"},
 "encoding": {"x": {"field": "x", "type": "quantitative", "scale": {"domain": [0, 100]}, "axis": null}, "y": {"field": "y", "type": "quantitative", "scale": {"domain": [0, 26]}, "axis": null}, "text": {"field": "label"}}},
{"data": {"values": [{"x": -11.55, "y": -3.44, "x2": -11.55, "y2": 8.4}, {"x": -11.55, "y": -3.44, "x2": 26.0, "y2": -3.44}]}, "mark": {"type": "rule", "color": "#000000", "strokeWidth": 4, "strokeCap": "square"},
 "encoding": {"x": {"field": "x", "type": "quantitative", "scale": {"domain": [0, 100]}, "axis": null}, "x2": {"field": "x2"}, "y": {"field": "y", "type": "quantitative", "scale": {"domain": [0, 26]}, "axis": null}, "y2": {"field": "y2"}}},
{"data": {"values": [{"dir": "up", "x": -11.55, "y": 9.0}, {"dir": "right", "x": 28.3, "y": -3.44}]}, "mark": {"type": "point", "size": 324, "filled": true, "color": "#000000", "opacity": 1},
 "encoding": {"x": {"field": "x", "type": "quantitative", "scale": {"domain": [0, 100]}, "axis": null}, "y": {"field": "y", "type": "quantitative", "scale": {"domain": [0, 26]}, "axis": null},
  "shape": {"field": "dir", "type": "nominal", "scale": {"domain": ["up", "right"], "range": ["M0,-1L0.72,1L-0.72,1Z", "M1,0L-1,0.72L-1,-0.72Z"]}, "legend": null}}},
{"data": {"values": [{"label": "SSC", "x": -10.0, "y": 14.9}]}, "mark": {"type": "text", "font": "Liberation Sans", "fontSize": 26, "fontWeight": "bold", "align": "center", "baseline": "alphabetic", "angle": 270, "color": "#000000"},
 "encoding": {"x": {"field": "x", "type": "quantitative", "scale": {"domain": [0, 100]}, "axis": null}, "y": {"field": "y", "type": "quantitative", "scale": {"domain": [0, 26]}, "axis": null}, "text": {"field": "label"}}},
{"data": {"values": [{"label": "IFN-γ", "x": 51.3, "y": -4.7}]}, "mark": {"type": "text", "font": "Liberation Sans", "fontSize": 24, "fontWeight": "bold", "align": "center", "baseline": "alphabetic", "color": "#000000"},
 "encoding": {"x": {"field": "x", "type": "quantitative", "scale": {"domain": [0, 100]}, "axis": null}, "y": {"field": "y", "type": "quantitative", "scale": {"domain": [0, 26]}, "axis": null}, "text": {"field": "label"}}}
]
},
{
"hconcat": [
{
"width": 278, "height": 234,
"resolve": {"scale": {"x": "independent", "y": "independent"}},
"layer": [
{"data": {"name": "core"}, "transform": [{"filter": "datum.panel === 'Pool 2'"}], "mark": {"type": "circle", "size": 170, "color": "#ff0000", "opacity": 1},
 "encoding": {"x": {"field": "x", "type": "quantitative", "scale": {"domain": [0, 278]}, "axis": null}, "y": {"field": "y", "type": "quantitative", "scale": {"domain": [0, 234]}, "axis": null}}},
{"data": {"name": "events"}, "transform": [{"filter": "datum.panel === 'Pool 2'"}], "mark": {"type": "circle", "size": 8, "color": "#ff0000", "opacity": 1},
 "encoding": {"x": {"field": "x", "type": "quantitative", "scale": {"domain": [0, 278]}, "axis": null}, "y": {"field": "y", "type": "quantitative", "scale": {"domain": [0, 234]}, "axis": null}}},
{"data": {"name": "gates"}, "transform": [{"filter": "datum.panel === 'Pool 2'"}], "mark": {"type": "rule", "color": "#333333", "strokeWidth": 1.5},
 "encoding": {
  "x": {"field": "x", "type": "quantitative", "scale": {"domain": [0, 100]}, "axis": {"orient": "bottom", "values": [0.7,3.0,5.7,8.2,10.6,15.6,16.3,21.3,25.8,28.9,31.6,33.8,35.6,37.2,38.6,40.0,41.4,42.8,43.8,51.5,55.8,58.2,59.7,61.1,62.6,64.0,65.3,66.5,67.6,68.3,75.2,78.3,80.7,82.6,84.2,85.8,87.3,88.7,89.9,90.5,97.4], "labels": false, "domain": false, "grid": false, "tickSize": 6, "tickColor": "#222222", "tickWidth": 1.5, "title": null}},
  "x2": {"field": "x2"},
  "y": {"field": "y", "type": "quantitative", "scale": {"domain": [0, 26]}, "axis": {"orient": "left", "values": [1,2,3,4,5,6,7,8,9,10,11,12,13,14,15,16,17,18,19,20,21,22,23,24,25,26], "labels": false, "domain": false, "grid": false, "tickSize": 4, "tickColor": "#222222", "tickWidth": 1.5, "title": null}},
  "y2": {"field": "y2"}}},
{"data": {"name": "titles"}, "transform": [{"filter": "datum.panel === 'Pool 2'"}], "mark": {"type": "text", "font": "Liberation Sans", "fontSize": 25, "fontWeight": "bold", "align": "center", "baseline": "alphabetic", "color": "#000000"},
 "encoding": {"x": {"field": "x", "type": "quantitative", "scale": {"domain": [0, 100]}, "axis": null}, "y": {"field": "y", "type": "quantitative", "scale": {"domain": [0, 26]}, "axis": null}, "text": {"field": "label"}}},
{"data": {"name": "percents"}, "transform": [{"filter": "datum.panel === 'Pool 2'"}], "mark": {"type": "text", "font": "Liberation Sans", "fontSize": 23, "fontWeight": "bold", "align": "center", "baseline": "alphabetic", "color": "#000000"},
 "encoding": {"x": {"field": "x", "type": "quantitative", "scale": {"domain": [0, 100]}, "axis": null}, "y": {"field": "y", "type": "quantitative", "scale": {"domain": [0, 26]}, "axis": null}, "text": {"field": "label"}}}
]
},
{
"width": 276, "height": 239,
"resolve": {"scale": {"x": "independent", "y": "independent"}},
"layer": [
{"data": {"name": "core"}, "transform": [{"filter": "datum.panel === 'Pool 3'"}], "mark": {"type": "circle", "size": 170, "color": "#ff0000", "opacity": 1},
 "encoding": {"x": {"field": "x", "type": "quantitative", "scale": {"domain": [0, 276]}, "axis": null}, "y": {"field": "y", "type": "quantitative", "scale": {"domain": [0, 239]}, "axis": null}}},
{"data": {"name": "events"}, "transform": [{"filter": "datum.panel === 'Pool 3'"}], "mark": {"type": "circle", "size": 8, "color": "#ff0000", "opacity": 1},
 "encoding": {"x": {"field": "x", "type": "quantitative", "scale": {"domain": [0, 276]}, "axis": null}, "y": {"field": "y", "type": "quantitative", "scale": {"domain": [0, 239]}, "axis": null}}},
{"data": {"name": "gates"}, "transform": [{"filter": "datum.panel === 'Pool 3'"}], "mark": {"type": "rule", "color": "#333333", "strokeWidth": 1.5},
 "encoding": {
  "x": {"field": "x", "type": "quantitative", "scale": {"domain": [0, 100]}, "axis": {"orient": "bottom", "values": [0.7,3.0,5.7,8.2,10.6,15.6,16.3,21.3,25.8,28.9,31.6,33.8,35.6,37.2,38.6,40.0,41.4,42.8,43.8,51.5,55.8,58.2,59.7,61.1,62.6,64.0,65.3,66.5,67.6,68.3,75.2,78.3,80.7,82.6,84.2,85.8,87.3,88.7,89.9,90.5,97.4], "labels": false, "domain": false, "grid": false, "tickSize": 6, "tickColor": "#222222", "tickWidth": 1.5, "title": null}},
  "x2": {"field": "x2"},
  "y": {"field": "y", "type": "quantitative", "scale": {"domain": [0, 26]}, "axis": {"orient": "left", "values": [1,2,3,4,5,6,7,8,9,10,11,12,13,14,15,16,17,18,19,20,21,22,23,24,25,26], "labels": false, "domain": false, "grid": false, "tickSize": 4, "tickColor": "#222222", "tickWidth": 1.5, "title": null}},
  "y2": {"field": "y2"}}},
{"data": {"name": "titles"}, "transform": [{"filter": "datum.panel === 'Pool 3'"}], "mark": {"type": "text", "font": "Liberation Sans", "fontSize": 25, "fontWeight": "bold", "align": "center", "baseline": "alphabetic", "color": "#000000"},
 "encoding": {"x": {"field": "x", "type": "quantitative", "scale": {"domain": [0, 100]}, "axis": null}, "y": {"field": "y", "type": "quantitative", "scale": {"domain": [0, 26]}, "axis": null}, "text": {"field": "label"}}},
{"data": {"name": "percents"}, "transform": [{"filter": "datum.panel === 'Pool 3'"}], "mark": {"type": "text", "font": "Liberation Sans", "fontSize": 23, "fontWeight": "bold", "align": "center", "baseline": "alphabetic", "color": "#000000"},
 "encoding": {"x": {"field": "x", "type": "quantitative", "scale": {"domain": [0, 100]}, "axis": null}, "y": {"field": "y", "type": "quantitative", "scale": {"domain": [0, 26]}, "axis": null}, "text": {"field": "label"}}}
]
}
],
"spacing": 46,
"bounds": "flush"
}
],
"spacing": 39,
"bounds": "flush"
}
],
"spacing": 311,
"bounds": "flush"
}
